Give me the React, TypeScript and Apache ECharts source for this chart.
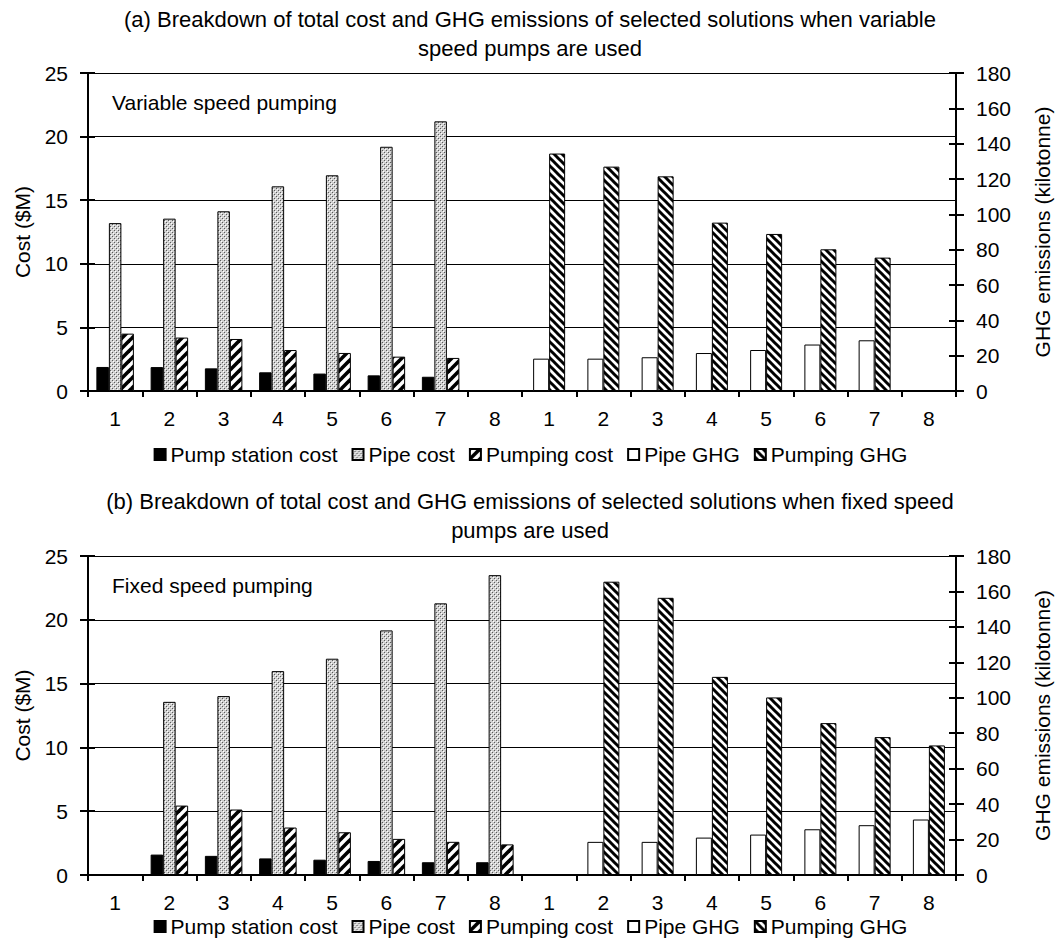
import React, { useEffect, useRef } from 'react';
import * as echarts from 'echarts';

const categories = ['1', '2', '3', '4', '5', '6', '7', '8', '1', '2', '3', '4', '5', '6', '7', '8'];
const seriesNames = ['Pump station cost', 'Pipe cost', 'Pumping cost', 'Pipe GHG', 'Pumping GHG'];
const emptyHalf = [null, null, null, null, null, null, null, null];

// (a) variable speed pumps
const varPumpStationCost = [1.89, 1.88, 1.78, 1.47, 1.37, 1.23, 1.12, null];
const varPipeCost = [13.2, 13.55, 14.13, 16.09, 16.96, 19.2, 21.2, null];
const varPumpingCost = [4.51, 4.2, 4.09, 3.22, 2.99, 2.7, 2.6, null];
const varPipeGHG = [18.3, 18.3, 19.1, 21.5, 23.2, 26.3, 28.7, null];
const varPumpingGHG = [134.4, 127.0, 121.5, 95.3, 88.9, 80.2, 75.5, null];

// (b) fixed speed pumps
const fixPumpStationCost = [null, 1.6, 1.5, 1.3, 1.2, 1.1, 1.0, 1.0];
const fixPipeCost = [null, 13.57, 14.02, 15.98, 16.95, 19.17, 21.29, 23.5];
const fixPumpingCost = [null, 5.44, 5.13, 3.72, 3.35, 2.83, 2.6, 2.4];
const fixPipeGHG = [null, 18.7, 18.7, 21.1, 22.8, 25.8, 28.1, 31.3];
const fixPumpingGHG = [null, 165.5, 156.4, 111.8, 100.2, 85.7, 77.8, 73.1];

const titleA = '(a) Breakdown of total cost and GHG emissions of selected solutions when variable\nspeed pumps are used';
const titleB = '(b) Breakdown of total cost and GHG emissions of selected solutions when fixed speed\npumps are used';
const noteA = 'Variable speed pumping';
const noteB = 'Fixed speed pumping';
const costAxisName = 'Cost ($M)';
const ghgAxisName = 'GHG emissions (kilotonne)';

const FONT = '"Liberation Sans", Arial, Helvetica, sans-serif';
const FS = 21;

function makeHatch(size: number, lw: number, dir: string) {
  const c = document.createElement('canvas');
  c.width = size;
  c.height = size;
  const ctx = c.getContext('2d')!;
  ctx.fillStyle = '#fff';
  ctx.fillRect(0, 0, size, size);
  ctx.strokeStyle = '#000';
  ctx.lineWidth = lw;
  for (const k of [-1, 0, 1, 2]) {
    ctx.beginPath();
    const c0 = k * size;
    if (dir === '/') {
      ctx.moveTo(c0 - 2 * size, 2 * size);
      ctx.lineTo(c0 + 2 * size, -2 * size);
    } else {
      ctx.moveTo(c0 - 2 * size, -2 * size);
      ctx.lineTo(c0 + 2 * size, 2 * size);
    }
    ctx.stroke();
  }
  return c;
}

function makeDots() {
  const c = document.createElement('canvas');
  c.width = 4;
  c.height = 4;
  const ctx = c.getContext('2d')!;
  ctx.fillStyle = '#d0d0d0';
  ctx.fillRect(0, 0, 4, 4);
  ctx.fillStyle = '#5a5a5a';
  ctx.fillRect(0, 0, 1, 1);
  ctx.fillRect(2, 2, 1, 1);
  ctx.fillStyle = '#ffffff';
  ctx.fillRect(1, 1, 1, 1);
  ctx.fillRect(3, 3, 1, 1);
  return c;
}

export default function App() {
  const ref = useRef<HTMLDivElement>(null);
  useEffect(() => {
    if (!ref.current) return;
    const chart = echarts.init(ref.current, null, { renderer: 'svg' });

    const styles = [
      { color: '#000' },
      { color: { image: makeDots(), repeat: 'repeat' } },
      { color: { image: makeHatch(10, 3.6, '/'), repeat: 'repeat' } },
      { color: '#fff' },
      { color: { image: makeHatch(8, 3.0, '\\'), repeat: 'repeat' } },
    ];

    const panels = [
      {
        top: 73, height: 318, title: titleA, titleTop: 5, note: noteA, noteTop: 92, legendTop: 439,
        data: [varPumpStationCost, varPipeCost, varPumpingCost, varPipeGHG, varPumpingGHG],
      },
      {
        top: 556, height: 319, title: titleB, titleTop: 487, note: noteB, noteTop: 575, legendTop: 911,
        data: [fixPumpStationCost, fixPipeCost, fixPumpingCost, fixPipeGHG, fixPumpingGHG],
      },
    ];

    const grids: any[] = [];
    const xAxes: any[] = [];
    const yAxes: any[] = [];
    const series: any[] = [];
    const legends: any[] = [];
    const graphics: any[] = [];

    panels.forEach((p, i) => {
      grids.push({ left: 88, right: 99, top: p.top, height: p.height, containLabel: false });
      xAxes.push({
        type: 'category', gridIndex: i, data: categories,
        axisLine: { show: true, lineStyle: { color: '#000', width: 2 } },
        axisTick: { show: true, length: 6, lineStyle: { color: '#000', width: 2 } },
        axisLabel: { interval: 0, color: '#000', fontSize: FS, fontFamily: FONT, margin: 17 },
        splitLine: { show: false },
      });
      xAxes.push({ type: 'category', gridIndex: i, data: categories, show: false });

      const costCommon = { type: 'value', gridIndex: i, min: 0, max: 25, interval: 5 };
      const ghgCommon = { type: 'value', gridIndex: i, min: 0, max: 180, interval: 20 };
      yAxes.push({
        ...costCommon, position: 'left',
        name: costAxisName, nameLocation: 'middle', nameGap: 55, nameRotate: 90,
        nameTextStyle: { color: '#000', fontSize: FS, fontFamily: FONT },
        axisLine: { show: true, lineStyle: { color: '#000', width: 2 } },
        axisTick: { show: true, length: 8, lineStyle: { color: '#000', width: 2 } },
        axisLabel: { color: '#000', fontSize: FS, fontFamily: FONT, margin: 20 },
        splitLine: { show: true, lineStyle: { color: '#000', width: 1 } },
      });
      yAxes.push({
        ...ghgCommon, position: 'right',
        name: ghgAxisName, nameLocation: 'middle', nameGap: 76, nameRotate: 90,
        nameTextStyle: { color: '#000', fontSize: FS, fontFamily: FONT },
        axisLine: { show: true, lineStyle: { color: '#000', width: 2 } },
        axisTick: { show: true, length: 8, lineStyle: { color: '#000', width: 2 } },
        axisLabel: { color: '#000', fontSize: FS, fontFamily: FONT, margin: 20 },
        splitLine: { show: false },
      });
      yAxes.push({
        ...costCommon, position: 'left',
        axisLine: { show: false },
        axisTick: { show: true, inside: true, length: 7, lineStyle: { color: '#000', width: 2 } },
        axisLabel: { show: false }, splitLine: { show: false },
      });
      yAxes.push({
        ...ghgCommon, position: 'right',
        axisLine: { show: false },
        axisTick: { show: true, inside: true, length: 7, lineStyle: { color: '#000', width: 2 } },
        axisLabel: { show: false }, splitLine: { show: false },
      });

      p.data.forEach((vals, s) => {
        const isGHG = s >= 3;
        series.push({
          type: 'bar',
          name: seriesNames[s],
          xAxisIndex: i * 2 + (isGHG ? 1 : 0),
          yAxisIndex: i * 4 + (isGHG ? 1 : 0),
          data: isGHG ? [...emptyHalf, ...vals] : [...vals, ...emptyHalf],
          barWidth: isGHG ? 16 : 12.5,
          barGap: '0%',
          itemStyle: { ...styles[s], borderColor: '#000', borderWidth: 1 },
          emphasis: { disabled: true },
        });
      });

      legends.push({
        data: seriesNames, top: p.legendTop, left: 'center', icon: 'rect',
        itemWidth: 11, itemHeight: 11, itemGap: 14, selectedMode: false,
        textStyle: { fontSize: FS, color: '#000', fontFamily: FONT },
      });
      graphics.push({
        type: 'text', x: 530, y: p.titleTop,
        style: {
          text: p.title, fontSize: 22, fill: '#000', fontFamily: FONT,
          align: 'center', verticalAlign: 'top', lineHeight: 29,
        },
      });
      graphics.push({
        type: 'text', left: 112, top: p.noteTop,
        style: { text: p.note, fontSize: FS, fill: '#000', fontFamily: FONT },
      });
    });

    chart.setOption({
      animation: false,
      textStyle: { fontFamily: FONT },
      legend: legends,
      grid: grids,
      xAxis: xAxes,
      yAxis: yAxes,
      series,
      graphic: graphics,
    });
    return () => chart.dispose();
  }, []);

  return (
    <div
      ref={ref}
      style={{ position: 'absolute', left: 0, top: 0, width: 1061, height: 952, background: '#fff' }}
    />
  );
}
